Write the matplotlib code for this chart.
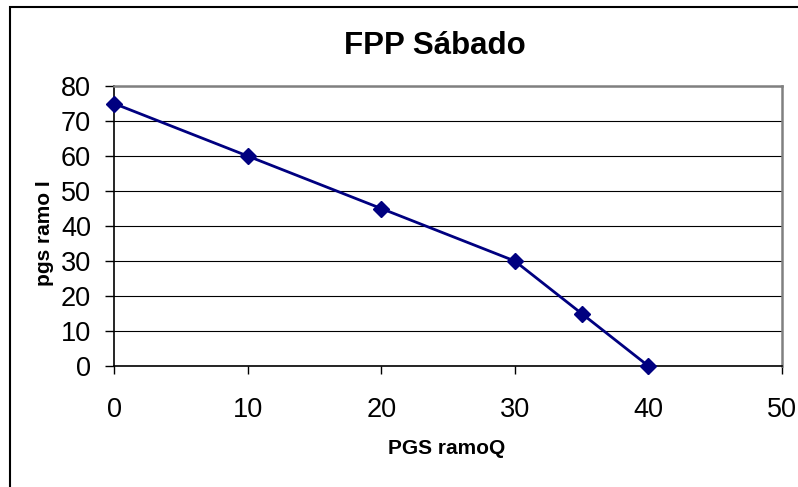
import matplotlib
matplotlib.use("Agg")
import matplotlib.pyplot as plt
from matplotlib.patches import Rectangle

# dados
pgs_ramo_q = [0, 10, 20, 30, 35, 40]
pgs_ramo_i = [75, 60, 45, 30, 15, 0]
x_ticks = [0, 10, 20, 30, 40, 50]
y_ticks = [0, 10, 20, 30, 40, 50, 60, 70, 80]

plt.rcParams['font.family'] = ['Liberation Sans', 'DejaVu Sans']

W, H = 798, 487
fig = plt.figure(figsize=(W / 100, H / 100), dpi=100)

# moldura externa (corta à direita e embaixo)
fig.patches.append(Rectangle((9.5 / W, -0.05), 1.1, 1 - 6.5 / H + 0.05,
                             transform=fig.transFigure, fill=False,
                             edgecolor='black', linewidth=1.5))

ax = fig.add_axes([114 / W, 1 - 366 / H, (782 - 114) / W, (366 - 86) / H])

ax.plot(pgs_ramo_q, pgs_ramo_i, color='#000080', linewidth=2,
        marker='D', markersize=8, zorder=5, clip_on=False)

ax.set_xlim(0, 50)
ax.set_ylim(0, 80)
ax.set_xticks(x_ticks)
ax.set_yticks(y_ticks)
ax.yaxis.grid(True, color='black', linewidth=0.8)
ax.set_axisbelow(True)

for s in ['top', 'right']:
    ax.spines[s].set_color('#808080')
    ax.spines[s].set_linewidth(1.8)
for s in ['left', 'bottom']:
    ax.spines[s].set_color('black')
    ax.spines[s].set_linewidth(1.2)

ax.tick_params(axis='y', direction='out', length=6.5, width=1, pad=10, labelsize=19.5)
ax.tick_params(axis='x', direction='out', length=6, width=1, pad=16, labelsize=19.5)

fig.text(435 / W, 1 - 46 / H, 'FPP Sábado', fontsize=22.5, fontweight='bold',
         ha='center', va='center')
fig.text(447 / W, 1 - 449 / H, 'PGS ramoQ', fontsize=15, fontweight='bold',
         ha='center', va='center')
fig.text(45 / W, 1 - 233 / H, 'pgs ramo I', fontsize=15, fontweight='bold',
         ha='center', va='center', rotation=90)

fig.savefig('out.png', dpi=100)
